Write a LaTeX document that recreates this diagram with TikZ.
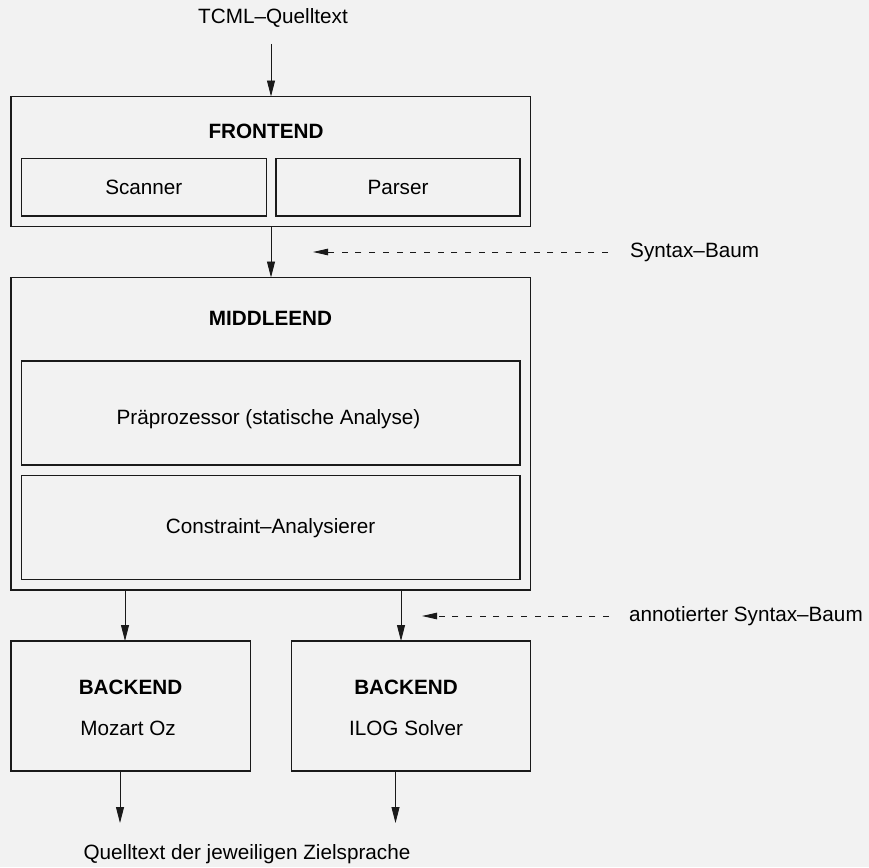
\documentclass[tikz,border=0pt]{standalone}
\usepackage{fontspec}
\setmainfont{Liberation Sans}
\usetikzlibrary{arrows.meta,calc}
\definecolor{bgcol}{HTML}{F2F2F2}
\definecolor{linecol}{HTML}{1A1A1A}
\begin{document}
\begin{tikzpicture}[x=1pt,y=-1pt,
  every node/.style={font=\fontsize{20.7}{24}\selectfont, text=black},
  box/.style={draw=linecol, line width=1.1pt, fill=none, inner sep=0pt, outer sep=0pt, anchor=north west},
  lbl/.style={anchor=base, inner sep=0pt},
  bold/.style={lbl, font=\fontsize{20.7}{24}\selectfont\bfseries},
  arr/.style={draw=linecol, line width=0.9pt, -{Triangle[length=16pt,width=8pt]}},
  dasharr/.style={draw=linecol, line width=0.9pt, dash pattern=on 6pt off 7.7pt, -{Triangle[length=15pt,width=6.5pt]}}
]
\fill[bgcol] (0,0) rectangle (869,867);
\useasboundingbox (0,0) rectangle (869,867);

% source text
\node[lbl] (tcml) at (273,24) {TCML–Quelltext};

% FRONTEND
\node[box, minimum width=519.5pt, minimum height=130pt] (fe) at (11,96.5) {};
\node[bold] (fetitle) at (266,138) {FRONTEND};
\node[box, minimum width=245pt, minimum height=57.5pt] (scan) at (21.3,158.5) {};
\node[box, minimum width=244pt, minimum height=57.5pt] (pars) at (276,158.5) {};
\node[lbl] at ($(scan.center)+(0,7.5)$) {Scanner};
\node[lbl] at ($(pars.center)+(0,7.5)$) {Parser};

% MIDDLEEND
\node[box, minimum width=519.5pt, minimum height=312.5pt] (me) at (11,277.5) {};
\node[bold] (metitle) at (270.5,325) {MIDDLEEND};
\node[box, minimum width=498.7pt, minimum height=104pt] (pre) at (21.3,361) {};
\node[box, minimum width=498.7pt, minimum height=104pt] (con) at (21.3,475.7) {};
\node[lbl] at (268.5,424) {Präprozessor (statische Analyse)};
\node[lbl] at (270.5,533) {Constraint–Analysierer};

% BACKENDs
\node[box, minimum width=239.5pt, minimum height=130pt] (be1) at (11,641) {};
\node[box, minimum width=239pt, minimum height=130pt] (be2) at (291.5,641) {};
\node[bold] at (130.5,694) {BACKEND};
\node[lbl] at (128,735) {Mozart Oz};
\node[bold] at (406,694) {BACKEND};
\node[lbl] at (406,735) {ILOG Solver};

% target text
\node[lbl] (ziel) at (247,859) {Quelltext der jeweiligen Zielsprache};

% side labels
\node[lbl, anchor=base west] (syn) at (630,257) {Syntax–Baum};
\node[lbl, anchor=base west] (ann) at (629,621) {annotierter Syntax–Baum};
\coordinate (syntip) at (313,252);
\coordinate (anntip) at (422,616);
\coordinate (out1) at (120,823);
\coordinate (out2) at (395.5,823);

% connectors
\draw[arr] (271,44) -- (fe.north -| 271,0);
\draw[arr] (fe.south -| 271,0) -- (me.north -| 271,0);
\draw[arr] (me.south -| 125,0) -- (be1.north -| 125,0);
\draw[arr] (me.south -| 401,0) -- (be2.north -| 401,0);
\draw[arr] (be1.south -| out1) -- (out1);
\draw[arr] (be2.south -| out2) -- (out2);
\draw[dasharr] (608,252) -- (syntip);
\draw[dasharr] (609,616) -- (anntip);
\end{tikzpicture}
\end{document}
